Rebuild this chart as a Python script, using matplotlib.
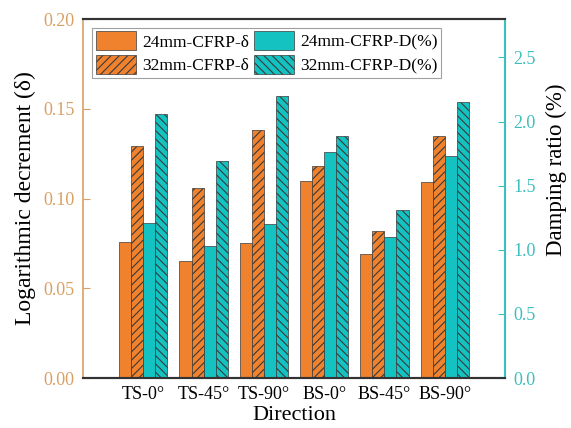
import numpy as np
import matplotlib
matplotlib.use("Agg")
from matplotlib import pyplot as plt

plt.rcParams["font.family"] = ["Liberation Serif", "DejaVu Serif"]
plt.rcParams["hatch.linewidth"] = 0.8

directions = ["TS-0°", "TS-45°", "TS-90°", "BS-0°", "BS-45°", "BS-90°"]
delta24 = [0.076, 0.065, 0.075, 0.110, 0.069, 0.109]
delta32 = [0.129, 0.106, 0.138, 0.118, 0.082, 0.135]
damp24 = [1.21, 1.03, 1.20, 1.76, 1.10, 1.73]
damp32 = [2.06, 1.69, 2.20, 1.89, 1.31, 2.15]

orange = "#F0822E"
teal = "#14C2C2"
leftCol = "#D9A063"
rightCol = "#3DBFBF"
edge = "#3a3a3a"


def main():
    fig = plt.figure(figsize=(5.71, 4.28), dpi=100)
    ax = fig.add_axes([0.1454, 0.1168, 0.8844 - 0.1454, 0.9556 - 0.1168])
    ax2 = ax.twinx()

    x = np.arange(1, len(directions) + 1)
    w = 0.2
    b1 = ax.bar(x - 1.5 * w, delta24, w, color=orange, edgecolor=edge, linewidth=0.5)
    b2 = ax.bar(x - 0.5 * w, delta32, w, color=orange, edgecolor=edge, linewidth=0.5,
                hatch="////")
    b3 = ax2.bar(x + 0.5 * w, damp24, w, color=teal, edgecolor=edge, linewidth=0.5)
    b4 = ax2.bar(x + 1.5 * w, damp32, w, color=teal, edgecolor=edge, linewidth=0.5,
                 hatch="\\\\\\\\")

    ax.set_xlim(0, 7)
    ax.set_ylim(0, 0.2)
    ax2.set_ylim(0, 2.8)
    ax.set_xticks(x)
    ax.set_xticklabels(directions)
    ax.set_yticks(np.arange(0, 0.201, 0.05))
    ax.set_yticklabels([f"{v:.2f}" for v in np.arange(0, 0.201, 0.05)])
    ax2.set_yticks(np.arange(0, 2.51, 0.5))
    ax2.set_yticklabels([f"{v:.1f}" for v in np.arange(0, 2.51, 0.5)])

    ax.tick_params(axis="y", direction="in", colors=leftCol, labelsize=13, length=5, pad=6)
    ax.tick_params(axis="x", direction="in", length=3, labelsize=13, pad=6)
    ax2.tick_params(axis="y", direction="in", colors=rightCol, labelsize=13, length=5, pad=6)

    ax.set_xlabel("Direction", fontsize=16, labelpad=2)
    ax.set_ylabel("Logarithmic decrement (δ)", fontsize=17, labelpad=5)
    ax2.set_ylabel("Damping ratio (%)", fontsize=16.5)
    ax2.yaxis.set_label_coords(1.097, 0.58)

    ax.spines["left"].set_color(leftCol)
    ax.spines["right"].set_visible(False)
    ax2.spines["left"].set_visible(False)
    ax2.spines["right"].set_color(rightCol)
    ax2.spines["right"].set_linewidth(1.5)
    ax.spines["left"].set_linewidth(1.2)
    for s in ["top", "bottom"]:
        ax.spines[s].set_color("#333333")
        ax.spines[s].set_linewidth(1.5)
        ax2.spines[s].set_color("#333333")
        ax2.spines[s].set_linewidth(1.5)

    leg = ax2.legend([b1, b2, b3, b4],
                     ["24mm-CFRP-δ", "32mm-CFRP-δ", "24mm-CFRP-D(%)", "32mm-CFRP-D(%)"],
                     ncol=2, loc="upper left", bbox_to_anchor=(0.022, 0.975),
                     fontsize=12.5, frameon=True, fancybox=False, edgecolor="#888888",
                     handlelength=2.3, handleheight=1.3, handletextpad=0.35,
                     columnspacing=0.3, labelspacing=0.25, borderpad=0.2, borderaxespad=0)
    leg.get_frame().set_linewidth(0.8)

    fig.savefig("out.png", dpi=100)
    plt.close()


if __name__ == "__main__":
    main()
